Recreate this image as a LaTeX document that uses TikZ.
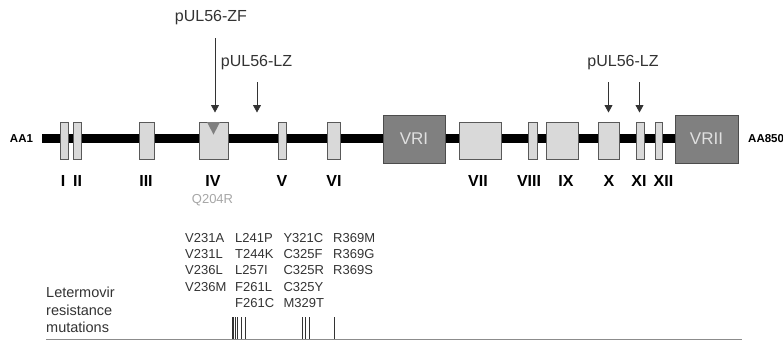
\documentclass[tikz,border=0pt]{standalone}
\usepackage{fontspec}
\setmainfont{Liberation Sans}
\usetikzlibrary{positioning, arrows.meta}

\definecolor{domaingray}{HTML}{D9D9D9}
\definecolor{regiongray}{HTML}{808080}
\definecolor{labelgray}{HTML}{333333}

\tikzset{
  cregion/.style={draw=black!65, fill=domaingray, line width=0.9pt, minimum height=37pt, inner sep=0pt},
  vregion/.style={draw=black!70, fill=regiongray, line width=0.9pt, minimum height=48pt, inner sep=0pt,
    text=black!12, font=\fontsize{17}{17}\selectfont},
  numeral/.style={font=\fontsize{16}{16}\selectfont\bfseries, inner sep=0pt},
  endlabel/.style={font=\fontsize{11.5}{11.5}\selectfont\bfseries, inner sep=0pt},
  motif/.style={font=\fontsize{16}{16}\selectfont, text=labelgray, inner sep=0pt},
  mutlist/.style={font=\fontsize{13}{16.25}\selectfont, text=labelgray, align=left, anchor=north west, inner sep=0pt},
  pointer/.style={-{Triangle[width=8pt,length=7.5pt]}, line width=0.8pt, labelgray}
}

\begin{document}
\begin{tikzpicture}[x=1pt, y=-1pt]
  \useasboundingbox (0,0) rectangle (783,341);

  % Backbone
  \node[endlabel] (aa1) at (21.5,138.5) {AA1};
  \draw[line width=8.5pt] (42,138.5) -- (675,138.5);

  % Conserved regions
  \foreach \n/\c/\w/\t in {I/64/8/63, II/77/8/77.5, III/146.5/15/146, IV/213.5/29/213,
      V/282/8/282, VI/333.5/13/334, VII/480/42/478, VIII/532.5/9/529, IX/562/32/566,
      X/608.5/21/609, XI/640/8/639, XII/658.5/7/663.5}{
    \node[cregion, minimum width=\w pt] (d\n) at (\c,140.5) {};
    \node[numeral] (n\n) at (\t,180.5) {\n};
  }
  \fill[regiongray] (dIV.north) ++(-6.5,0.5) -- ++(13,0) -- ++(-6.5,12.5) -- cycle;

  % Variable regions
  \node[vregion, minimum width=62pt] (vr1) at (414,139) {VRI};
  \node[vregion, minimum width=63pt] (vr2) at (706.5,139) {VRII};
  \node[endlabel, anchor=west] (aa850) at (748,138.5) {AA850};

  % Binding motifs
  \node[motif] (zf) at (211,18) {pUL56-ZF};
  \node[motif] (lzA) at (256.5,63) {pUL56-LZ};
  \node[motif] (lzB) at (623,63) {pUL56-LZ};
  \coordinate (zfTop) at (215,38);      \coordinate (zfTip) at (215,112.5);
  \coordinate (lzATop) at (257,82);     \coordinate (lzATip) at (257,112.5);
  \coordinate (lzBTop) at (608.5,82);   \coordinate (lzBTip) at (608.5,112.5);
  \coordinate (lzCTop) at (639.5,82);   \coordinate (lzCTip) at (639.5,112.5);
  \draw[pointer] (zfTop) -- (zfTip);
  \draw[pointer] (lzATop) -- (lzATip);
  \draw[pointer] (lzBTop) -- (lzBTip);
  \draw[pointer] (lzCTop) -- (lzCTip);

  \node[font=\fontsize{13}{13}\selectfont, text=black!35, inner sep=0pt] (q204r) at (212.5,200) {Q204R};

  % Resistance mutations
  \node[mutlist] (colA) at (185,233) {V231A\\V231L\\V236L\\V236M};
  \node[mutlist] (colB) at (235,233) {L241P\\T244K\\L257I\\F261L\\F261C};
  \node[mutlist] (colC) at (283.3,233) {Y321C\\C325F\\C325R\\C325Y\\M329T};
  \node[mutlist] (colD) at (333,233) {R369M\\R369G\\R369S};
  \node[font=\fontsize{14.5}{17.5}\selectfont, text=labelgray, align=left, anchor=north west, inner sep=0pt]
    (letermovir) at (46,287) {Letermovir\\resistance\\mutations};

  \draw[black!45, line width=1pt] (46,339.5) -- (742,339.5);
  \foreach \x in {232,233.8,235.6,237.6,241.5,245,302,305.5,309,334}
    \draw[labelgray, line width=0.8pt] (\x,317) -- (\x,339);
\end{tikzpicture}
\end{document}
